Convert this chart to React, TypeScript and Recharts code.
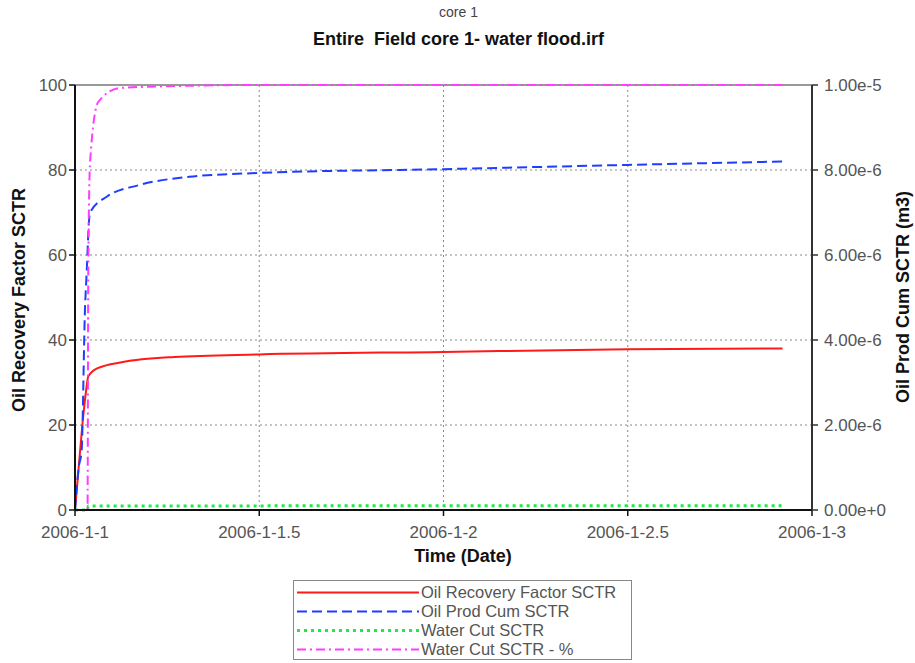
import React from 'react'
import { LineChart, Line, XAxis, YAxis, CartesianGrid, ReferenceLine } from 'recharts'

// time in days since 2006-1-1
const recoveryDays = [0, 0.01, 0.02, 0.03, 0.036, 0.06, 0.13, 0.27, 0.5, 1, 1.5, 1.92]
const recoveryFactor = [0, 10, 20, 28, 31.4, 33.3, 34.8, 36, 36.6, 37.2, 37.8, 38]

const prodDays = [0, 0.01, 0.018, 0.027, 0.032, 0.038, 0.041, 0.086, 0.176, 0.31, 0.5, 1, 1.5, 1.92]
const prodCum = [0, 1.0e-6, 1.4e-6, 4.7e-6, 5.65e-6, 6.8e-6, 7.0e-6, 7.37e-6, 7.65e-6, 7.84e-6, 7.93e-6, 8.02e-6, 8.12e-6, 8.2e-6]

const waterCutDays = [0, 0.034, 0.036, 0.5, 1, 1.5, 1.92]
const waterCut = [0, 0, 0.95, 0.97, 0.98, 0.99, 0.99]

const waterPctDays = [0, 0.034, 0.036, 0.041, 0.063, 0.122, 0.3, 0.5, 1, 1.5, 1.92]
const waterPct = [0, 0, 56, 82, 96, 99.3, 99.8, 100, 100, 100, 100]

const xTicks = [0, 0.5, 1, 1.5, 2]
const xTickLabels = ['2006-1-1', '2006-1-1.5', '2006-1-2', '2006-1-2.5', '2006-1-3']
const leftTicks = [0, 20, 40, 60, 80, 100]
const rightTicks = [0, 2e-6, 4e-6, 6e-6, 8e-6, 1e-5]

const zip = (xs: number[], ys: number[]) => xs.map((t, i) => ({ t, v: ys[i] }))

const series = [
  { name: 'Oil Recovery Factor SCTR', color: '#ff1a1a', dash: undefined, width: 2, data: zip(recoveryDays, recoveryFactor), axis: 'left' },
  { name: 'Oil Prod Cum SCTR', color: '#1f3dff', dash: '10 5', width: 2, data: zip(prodDays, prodCum), axis: 'right' },
  { name: 'Water Cut SCTR', color: '#1ee84a', dash: '3 4', width: 3, data: zip(waterCutDays, waterCut), axis: 'left' },
  { name: 'Water Cut SCTR - %', color: '#ff3cff', dash: '9 4 2 4', width: 2, data: zip(waterPctDays, waterPct), axis: 'left' },
]

const font = '"Liberation Sans", Arial, sans-serif'
const tickStyle = { fontSize: 17, fill: '#555', fontFamily: font }
const bold = { fontSize: 18, fontWeight: 'bold' as const, color: '#111' }

export default function App() {
  return (
    <div style={{ position: 'absolute', left: 0, top: 0, width: 915, height: 663, background: '#fff', fontFamily: font }}>
      <div style={{ position: 'absolute', top: 4, width: 917, textAlign: 'center', fontSize: 14, color: '#444' }}>core 1</div>
      <div style={{ position: 'absolute', top: 29, width: 917, textAlign: 'center', whiteSpace: 'pre', ...bold }}>
        Entire  Field core 1- water flood.irf
      </div>

      <LineChart width={915} height={570} margin={{ top: 85, right: 23, bottom: 30, left: 15 }}>
        <CartesianGrid strokeDasharray="2 3" stroke="#888" horizontalValues={[20, 40, 60, 80]} verticalValues={[0.5, 1, 1.5]} yAxisId="left" />
        <XAxis
          dataKey="t"
          type="number"
          domain={[0, 2]}
          ticks={xTicks}
          tickFormatter={(v: number) => xTickLabels[xTicks.indexOf(v)] ?? ''}
          height={30}
          tick={tickStyle}
          tickSize={6}
          tickMargin={10}
          axisLine={{ stroke: '#111', strokeWidth: 2 }}
          tickLine={{ stroke: '#111', strokeWidth: 1.5 }}
          allowDuplicatedCategory={false}
        />
        <YAxis
          yAxisId="left"
          domain={[0, 100]}
          ticks={leftTicks}
          width={60}
          tick={tickStyle}
          tickSize={6}
          axisLine={{ stroke: '#111', strokeWidth: 2 }}
          tickLine={{ stroke: '#111', strokeWidth: 1.5 }}
        />
        <YAxis
          yAxisId="right"
          orientation="right"
          domain={[0, 1e-5]}
          ticks={rightTicks}
          width={80}
          tick={tickStyle}
          tickSize={6}
          tickMargin={6}
          tickFormatter={(v: number) => v.toExponential(2)}
          axisLine={{ stroke: '#333', strokeWidth: 2 }}
          tickLine={{ stroke: '#333', strokeWidth: 1.5 }}
        />
        <ReferenceLine yAxisId="left" y={100} stroke="#777" strokeWidth={1.5} />
        {series.map((s) => (
          <Line
            key={s.name}
            yAxisId={s.axis}
            data={s.data}
            dataKey="v"
            name={s.name}
            type="monotone"
            stroke={s.color}
            strokeWidth={s.width}
            strokeDasharray={s.dash}
            dot={false}
            isAnimationActive={false}
          />
        ))}
      </LineChart>

      <div style={{ position: 'absolute', top: 546, left: 0, width: 926, textAlign: 'center', ...bold }}>Time (Date)</div>
      <div style={{ position: 'absolute', left: 19, top: 300, transform: 'translate(-50%, -50%) rotate(-90deg)', whiteSpace: 'nowrap', ...bold }}>
        Oil Recovery Factor SCTR
      </div>
      <div style={{ position: 'absolute', left: 903, top: 297, transform: 'translate(-50%, -50%) rotate(-90deg)', whiteSpace: 'nowrap', ...bold }}>
        Oil Prod Cum SCTR (m3)
      </div>

      <div style={{ position: 'absolute', left: 293, top: 580, width: 337, height: 78, border: '1px solid #888', background: '#fff' }}>
        {series.map((s, i) => (
          <div key={s.name} style={{ position: 'absolute', left: 3, top: 2 + i * 19, height: 19, display: 'flex', alignItems: 'center' }}>
            <svg width={122} height={19}>
              <line x1={0} y1={9.5} x2={122} y2={9.5} stroke={s.color} strokeWidth={s.width} strokeDasharray={s.dash} />
            </svg>
            <span style={{ fontSize: 16.5, color: '#555', marginLeft: 2 }}>{s.name}</span>
          </div>
        ))}
      </div>
    </div>
  )
}
